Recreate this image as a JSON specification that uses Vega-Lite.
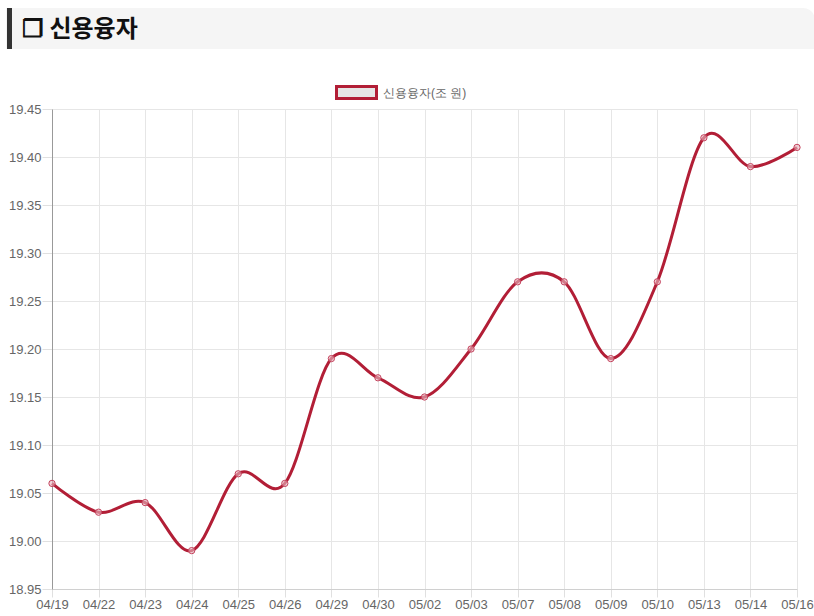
{
  "$schema": "https://vega.github.io/schema/vega-lite/v6.json",
  "padding": {"left": 5, "top": 5, "right": 0, "bottom": 0},
  "background": "white",
  "config": {"font": "Liberation Sans", "view": {"stroke": null}},
  "spacing": 51,
  "vconcat": [
    {
      "width": 763,
      "height": 41,
      "data": {"values": [{"title": "❐ 신용융자", "x0": -0.0603, "x1": 1, "xr": -0.0557, "xt": -0.0393}]},
      "layer": [
        {
          "mark": {"type": "rect", "color": "#f5f5f5", "cornerRadiusTopRight": 12},
          "encoding": {
            "x": {"field": "x0", "type": "quantitative", "scale": {"domain": [0, 1], "nice": false, "zero": false}, "axis": null},
            "x2": {"field": "x1"}
          }
        },
        {
          "mark": {"type": "rule", "color": "#333333", "strokeWidth": 5},
          "encoding": {"x": {"field": "xr", "type": "quantitative"}}
        },
        {
          "mark": {"type": "text", "align": "left", "baseline": "middle", "fontSize": 24, "fontWeight": "bold", "font": "Noto Sans CJK KR", "color": "#111111", "dy": 1},
          "encoding": {
            "text": {"field": "title"},
            "x": {"field": "xt", "type": "quantitative"}
          }
        }
      ]
    },
    {
      "width": 745,
      "height": 480,
      "data": {"values": [
        {"date": "04/19", "value": 19.06},
        {"date": "04/22", "value": 19.03},
        {"date": "04/23", "value": 19.04},
        {"date": "04/24", "value": 18.99},
        {"date": "04/25", "value": 19.07},
        {"date": "04/26", "value": 19.06},
        {"date": "04/29", "value": 19.19},
        {"date": "04/30", "value": 19.17},
        {"date": "05/02", "value": 19.15},
        {"date": "05/03", "value": 19.20},
        {"date": "05/07", "value": 19.27},
        {"date": "05/08", "value": 19.27},
        {"date": "05/09", "value": 19.19},
        {"date": "05/10", "value": 19.27},
        {"date": "05/13", "value": 19.42},
        {"date": "05/14", "value": 19.39},
        {"date": "05/16", "value": 19.41}
      ]},
      "encoding": {
        "x": {
          "field": "date", "type": "ordinal", "sort": null,
          "scale": {"type": "point", "padding": 0},
          "axis": {"title": null, "labelAngle": 0, "labelColor": "#666666", "labelFontSize": 13, "tickColor": "#e0e0e0", "tickSize": 8, "labelPadding": 1, "gridColor": "#e6e6e6", "grid": true, "domainColor": "#d0d0d0"}
        },
        "y": {
          "field": "value", "type": "quantitative",
          "scale": {"domain": [18.95, 19.45], "nice": false, "zero": false},
          "axis": {"title": null, "values": [18.95, 19.0, 19.05, 19.1, 19.15, 19.2, 19.25, 19.3, 19.35, 19.4, 19.45], "format": ".2f", "labelColor": "#666666", "labelFontSize": 13, "tickColor": "#e0e0e0", "tickSize": 10, "labelPadding": 1, "gridColor": "#e6e6e6", "domainColor": "#999999", "minExtent": 45}
        }
      },
      "layer": [
        {
          "mark": {"type": "line", "interpolate": "cardinal", "tension": 0, "strokeWidth": 3, "color": "#b21e36"},
          "encoding": {
            "color": {
              "datum": "신용융자(조 원)", "type": "nominal",
              "scale": {"range": ["#b21e36"]},
              "legend": {"orient": "none", "legendX": 283, "legendY": 63, "direction": "horizontal", "title": null,
                "symbolType": "M-1,-0.3H1V0.3H-1Z", "symbolSize": 1600, "symbolFillColor": "#e6e6e6", "symbolStrokeColor": "#b21e36", "symbolStrokeWidth": 3,
                "labelColor": "#666666", "labelFontSize": 12, "labelOffset": 5}
            }
          }
        },
        {
          "mark": {"type": "point", "shape": "circle", "size": 40, "filled": true, "fill": "#eab8c2", "fillOpacity": 0.6, "stroke": "#c4445e", "strokeWidth": 1}
        }
      ]
    }
  ]
}
